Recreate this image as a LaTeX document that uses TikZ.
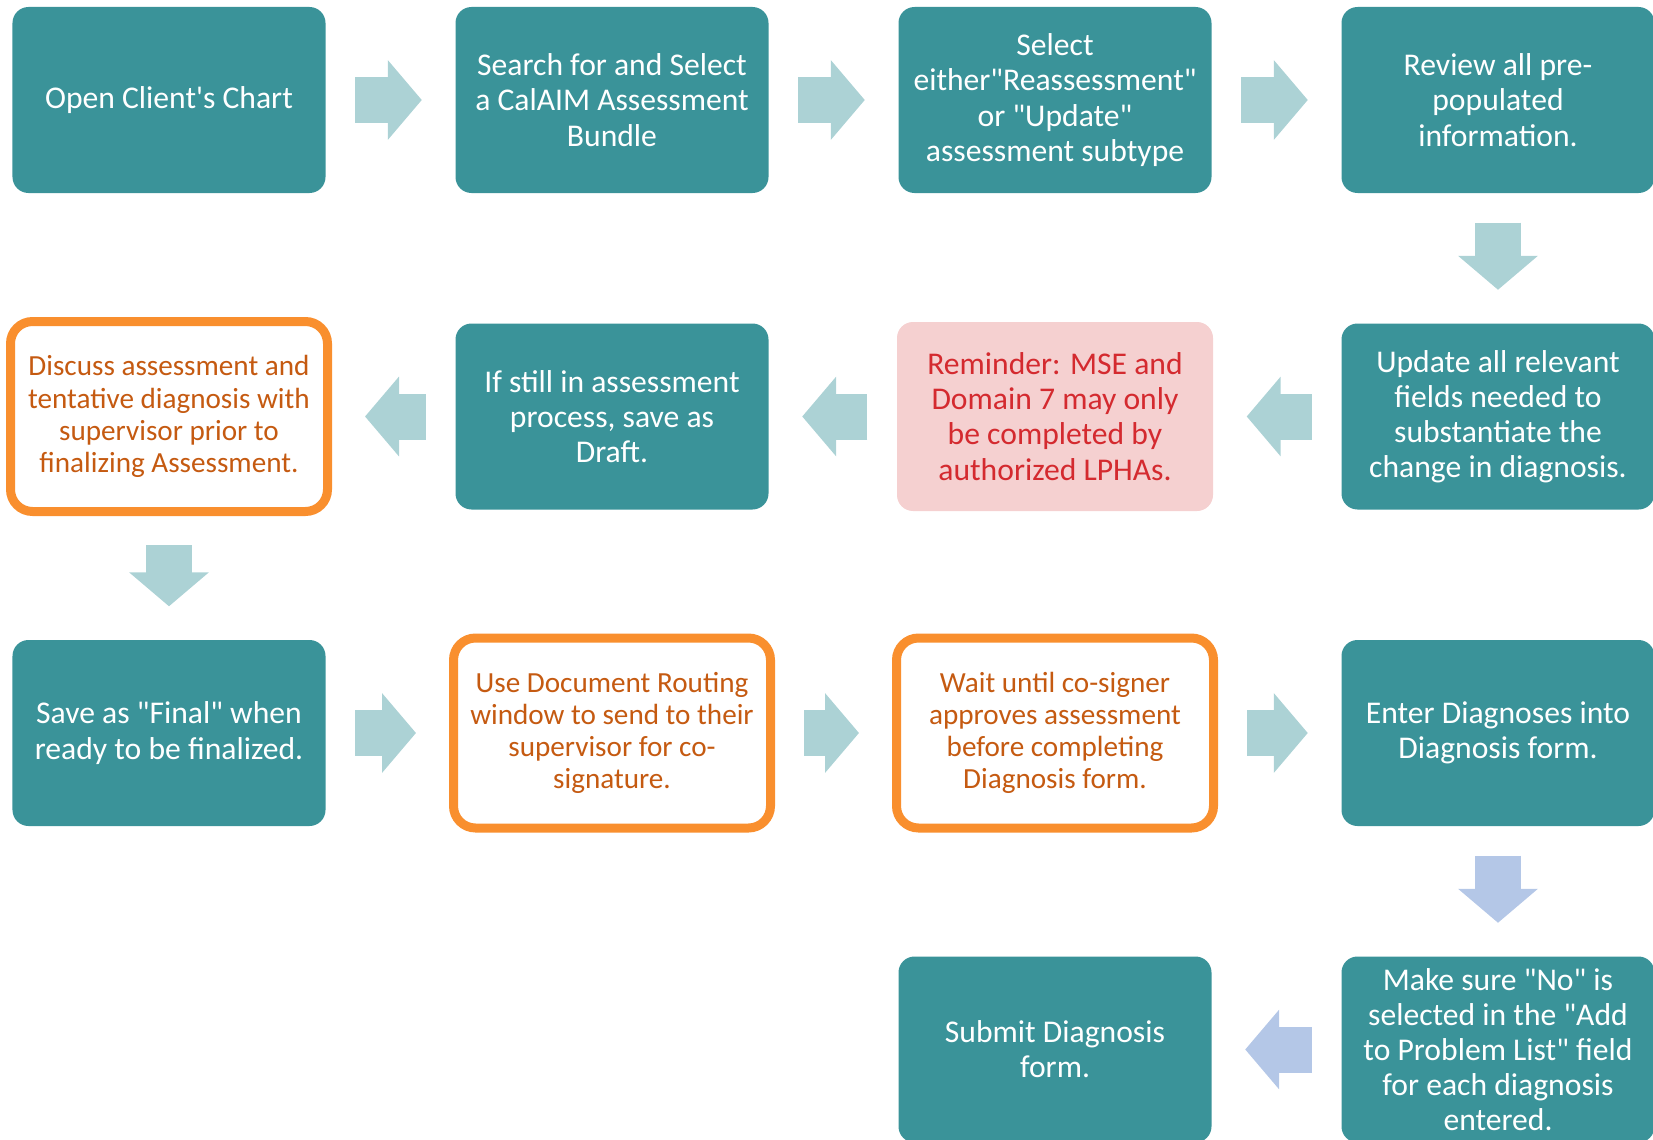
\documentclass[tikz,border=0pt]{standalone}
\usepackage{fontspec}
\setmainfont{Carlito}[Ligatures=TeXOff]
\usetikzlibrary{arrows.meta,calc}
\definecolor{stepteal}{HTML}{3A9399}
\definecolor{flowteal}{HTML}{ACD2D5}
\definecolor{flowblue}{HTML}{B4C7E7}
\definecolor{notepink}{HTML}{F5D0D0}
\definecolor{notered}{HTML}{D42A2F}
\definecolor{warnorange}{HTML}{F98F2E}
\definecolor{warntext}{HTML}{C55A11}

\begin{document}
\begin{tikzpicture}[
  box/.style={rounded corners=0.16cm, minimum width=3.13cm, minimum height=1.86cm,
    align=center, inner sep=0pt, font=\fontsize{9}{10}\selectfont},
  tealbox/.style={box, fill=stepteal, text=white},
  notebox/.style={box, fill=notepink, text=notered, minimum width=3.16cm, minimum height=1.89cm},
  warnbox/.style={box, fill=white, draw=warnorange, line width=0.09cm, text=warntext,
    rounded corners=0.22cm, minimum width=3.17cm, minimum height=1.90cm,
    font=\fontsize{8.3}{9.15}\selectfont},
  flow/.style={draw=flowteal, line width=0.46cm, shorten <=0.29cm, shorten >=0.33cm,
    -{Triangle[length=0.34cm,width=0.78cm]}},
  flowb/.style={flow, draw=flowblue}
]
\useasboundingbox (0,0) rectangle (16.53,11.39);

\coordinate (C1) at (1.69,10.39);
\coordinate (C2) at (6.12,10.39);
\coordinate (C3) at (10.55,10.39);
\coordinate (C4) at (14.98,10.39);

% first row
\node[tealbox] (open)   at (C1) {Open Client's Chart};
\node[tealbox] (search) at (C2) {Search for and Select\\a CalAIM Assessment\\Bundle};
\node[tealbox] (subtype) at (C3) {Select\\either"Reassessment"\\or "Update"\\assessment subtype};
\node[tealbox] (review) at (C4) {Review all pre-\\populated\\information.};

% second row
\node[tealbox]  (update)   at ($(C4)+(0,-3.165)$) {Update all relevant\\fields needed to\\substantiate the\\change in diagnosis.};
\node[notebox]  (reminder) at ($(C3)+(0,-3.165)$) {Reminder: MSE and\\Domain 7 may only\\be completed by\\authorized LPHAs.};
\node[tealbox]  (draft)    at ($(C2)+(0,-3.165)$) {If still in assessment\\process, save as\\Draft.};
\node[warnbox]  (discuss)  at ($(C1)+(0,-3.165)$) {Discuss assessment and\\tentative diagnosis with\\supervisor prior to\\finalizing Assessment.};

% third row
\node[tealbox]  (final)   at ($(C1)+(0,-6.33)$) {Save as "Final" when\\ready to be finalized.};
\node[warnbox]  (routing) at ($(C2)+(0,-6.33)$) {Use Document Routing\\window to send to their\\supervisor for co-\\signature.};
\node[warnbox]  (wait)    at ($(C3)+(0,-6.33)$) {Wait until co-signer\\approves assessment\\before completing\\Diagnosis form.};
\node[tealbox]  (enter)   at ($(C4)+(0,-6.33)$) {Enter Diagnoses into\\Diagnosis form.};

% last row
\node[tealbox]  (problem) at ($(C4)+(0,-9.495)$) {Make sure "No" is\\selected in the "Add\\to Problem List" field\\for each diagnosis\\entered.};
\node[tealbox]  (submit)  at ($(C3)+(0,-9.495)$) {Submit Diagnosis\\form.};

\draw[flow] (open) -- (search);
\draw[flow] (search) -- (subtype);
\draw[flow] (subtype) -- (review);
\draw[flow] (review) -- (update);
\draw[flow] (update) -- (reminder);
\draw[flow] (reminder) -- (draft);
\draw[flow] (draft) -- (discuss);
\draw[flow] (discuss) -- (final);
\draw[flow] (final) -- (routing);
\draw[flow] (routing) -- (wait);
\draw[flow] (wait) -- (enter);
\draw[flowb] (enter) -- (problem);
\draw[flowb] (problem) -- (submit);

\end{tikzpicture}
\end{document}
